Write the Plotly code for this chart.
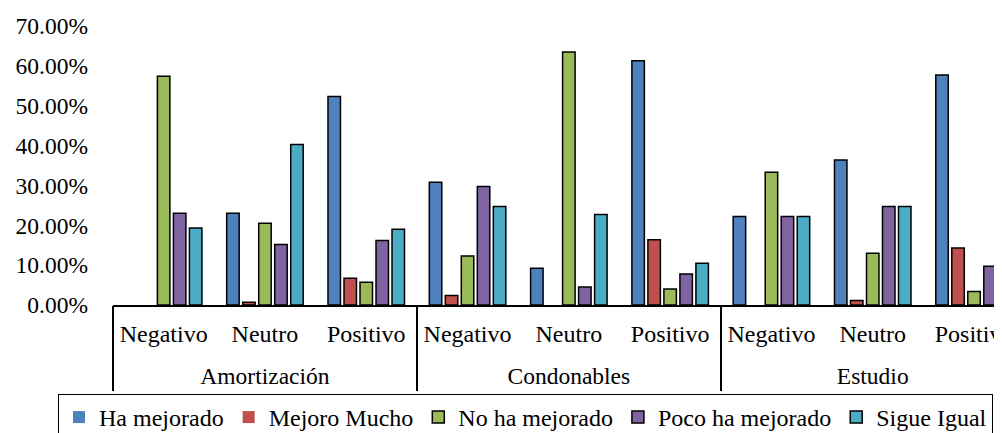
import plotly.graph_objects as go

groups = ["Amortización"] * 3 + ["Condonables"] * 3 + ["Estudio"] * 3
subcats = ["Negativo", "Neutro", "Positivo"] * 3

series_names = ["Ha mejorado", "Mejoro Mucho", "No ha mejorado", "Poco ha mejorado", "Sigue Igual"]
ha_mejorado = [0.0, 0.230, 0.523, 0.308, 0.092, 0.613, 0.222, 0.364, 0.577]
mejoro_mucho = [0.0, 0.007, 0.067, 0.024, 0.0, 0.164, 0.0, 0.011, 0.143]
no_ha_mejorado = [0.574, 0.205, 0.057, 0.123, 0.635, 0.040, 0.333, 0.130, 0.034]
poco_ha_mejorado = [0.230, 0.152, 0.162, 0.297, 0.045, 0.078, 0.222, 0.247, 0.097]
sigue_igual = [0.193, 0.403, 0.190, 0.247, 0.227, 0.105, 0.222, 0.247, 0.148]

values = [ha_mejorado, mejoro_mucho, no_ha_mejorado, poco_ha_mejorado, sigue_igual]
colors = ["#4F81BD", "#C0504D", "#9BBB59", "#8064A2", "#4BACC6"]

FONT = "Liberation Serif"

# category index positions (from the data order)
pos = list(range(len(subcats)))
group_names = list(dict.fromkeys(groups))
group_pos = [[p for p, g in zip(pos, groups) if g == name] for name in group_names]
group_centers = [(gp[0] + gp[-1]) / 2 for gp in group_pos]
group_bounds = [gp[0] - 0.5 for gp in group_pos] + [group_pos[-1][-1] + 0.5]

XRANGE = [-0.5, 8.355]

fig = go.Figure()
for name, vals, col in zip(series_names, values, colors):
    fig.add_trace(go.Bar(
        name=name,
        x=pos,
        y=vals,
        marker=dict(color=col,
                    line=dict(color="black",
                              width=[0 if v == 0 else 1.5 for v in vals])),
    ))

# carrier for the group-label axis (invisible)
fig.add_trace(go.Scatter(
    x=group_centers, y=[0] * len(group_centers), xaxis="x2",
    mode="markers", marker=dict(opacity=0), showlegend=False, hoverinfo="skip",
))

fig.update_layout(
    template="none",
    width=1002,
    height=433,
    margin=dict(l=105, r=0, t=18, b=135),
    paper_bgcolor="white",
    plot_bgcolor="white",
    barmode="group",
    bargap=0.21,
    bargroupgap=0.22,
    font=dict(family=FONT, size=23, color="black"),
    showlegend=True,
    legend=dict(
        orientation="h",
        x=-0.0613, xanchor="left",
        y=-0.318, yanchor="top",
        bordercolor="black", borderwidth=1,
        font=dict(family=FONT, size=24, color="black"),
    ),
    xaxis=dict(
        range=XRANGE,
        tickmode="array", tickvals=pos, ticktext=subcats,
        showline=True, linecolor="black", linewidth=1.5,
        showgrid=False, zeroline=False,
        ticks="",
        ticklabelstandoff=6,
        ticklabeloverflow="allow",
        tickfont=dict(family=FONT, size=24, color="black"),
        automargin=False,
    ),
    xaxis2=dict(
        overlaying="x", anchor="y", side="bottom",
        range=XRANGE,
        tickmode="array", tickvals=group_centers, ticktext=group_names,
        showline=False, showgrid=False, zeroline=False,
        ticks="",
        ticklabelstandoff=54,
        ticklabeloverflow="allow",
        tickfont=dict(family=FONT, size=23.5, color="black"),
        minor=dict(tickmode="array", tickvals=group_bounds, ticks="outside",
                   ticklen=85, tickwidth=1.5, tickcolor="black", showgrid=False),
        automargin=False,
    ),
    yaxis=dict(
        range=[0, 0.70],
        dtick=0.1,
        tickformat=".2%",
        showgrid=False, zeroline=False, showline=False,
        ticks="",
        ticklabelstandoff=24,
        tickfont=dict(family=FONT, size=23.5, color="black"),
        automargin=False,
    ),
)

fig.write_html("out.html")
